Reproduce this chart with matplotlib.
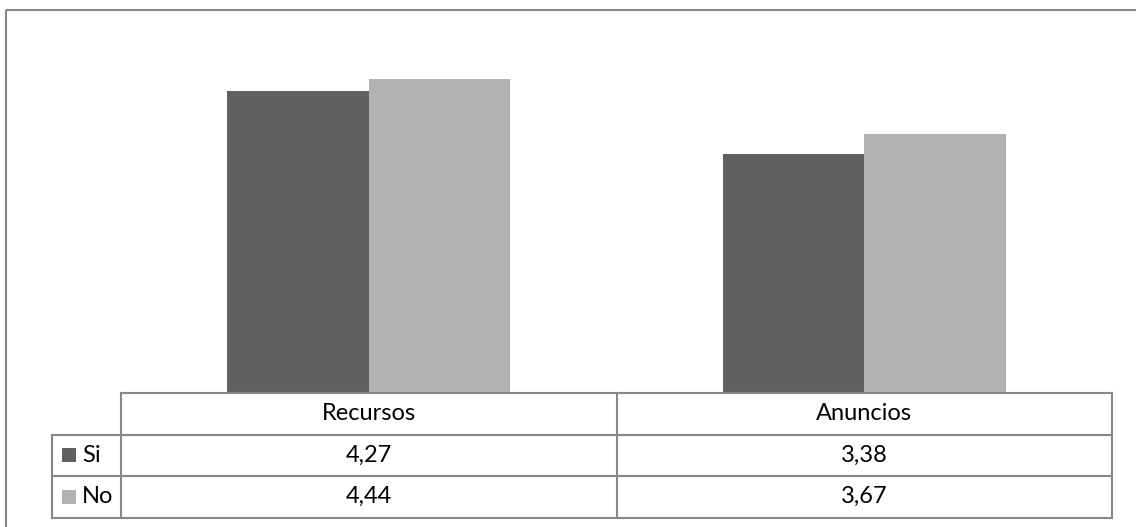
import matplotlib
matplotlib.use("Agg")
import matplotlib.pyplot as plt
from matplotlib.patches import Rectangle
import numpy as np

categories = ["Recursos", "Anuncios"]
series_names = ["Si", "No"]
si_values = [4.27, 3.38]
no_values = [4.44, 3.67]
value_labels_si = ["4,27", "3,38"]
value_labels_no = ["4,44", "3,67"]

colors = {"Si": "#606060", "No": "#b2b2b2"}
line_color = "#878787"
W, H = 1136, 527

plt.rcParams["font.family"] = ["Lato", "DejaVu Sans"]

fig = plt.figure(figsize=(W / 100, H / 100), dpi=100)
fig.patch.set_facecolor("white")

# plot area in pixel coordinates
px_left, px_right, px_top, px_bottom = 121, 1112, 39.5, 393
ax = fig.add_axes([px_left / W, 1 - px_bottom / H,
                   (px_right - px_left) / W, (px_bottom - px_top) / H])
ax.set_xlim(-0.5, len(categories) - 0.5)
ax.set_ylim(0, 5)
ax.axis("off")

x = np.arange(len(categories))
bar_w = 0.2857
ax.bar(x - bar_w / 2, si_values, width=bar_w, color=colors["Si"], linewidth=0)
ax.bar(x + bar_w / 2, no_values, width=bar_w, color=colors["No"], linewidth=0)

# overlay in pixel units for the frame and data table
ov = fig.add_axes([0, 0, 1, 1])
ov.set_xlim(0, W)
ov.set_ylim(H, 0)
ov.axis("off")
ov.patch.set_alpha(0)

lw = 1.5
# chart frame (top and left visible)
ov.plot([6, W + 5], [10, 10], color=line_color, lw=lw, solid_capstyle="butt")
ov.plot([6, 6], [10, H + 5], color=line_color, lw=lw, solid_capstyle="butt")

# data table geometry
col_edges = [px_left, (px_left + px_right) / 2, px_right]
row_edges = [393, 434.5, 476, 517.5]
key_left = 52

# horizontal lines
ov.plot([px_left, px_right], [row_edges[0]] * 2, color=line_color, lw=lw)
for y in row_edges[1:]:
    ov.plot([key_left, px_right], [y, y], color=line_color, lw=lw)
# vertical lines
for xe in col_edges:
    ov.plot([xe, xe], [row_edges[0], row_edges[-1]], color=line_color, lw=lw)
ov.plot([key_left, key_left], [row_edges[1], row_edges[-1]], color=line_color, lw=lw)

fs = 17
row_centers = [(row_edges[i] + row_edges[i + 1]) / 2 for i in range(3)]
col_centers = [(col_edges[i] + col_edges[i + 1]) / 2 for i in range(2)]
for c, cat in zip(col_centers, categories):
    ov.text(c, row_centers[0], cat, ha="center", va="center", fontsize=fs, color="black")
for c, s in zip(col_centers, value_labels_si):
    ov.text(c, row_centers[1], s, ha="center", va="center", fontsize=fs, color="black")
for c, s in zip(col_centers, value_labels_no):
    ov.text(c, row_centers[2], s, ha="center", va="center", fontsize=fs, color="black")

# legend keys
for rc, name in zip(row_centers[1:], series_names):
    ov.add_patch(Rectangle((61.5, rc - 7), 14.5, 14, facecolor=colors[name], edgecolor="none"))
    ov.text(82, rc, name, ha="left", va="center", fontsize=fs, color="black")

fig.savefig("out.png", dpi=100, facecolor="white")
